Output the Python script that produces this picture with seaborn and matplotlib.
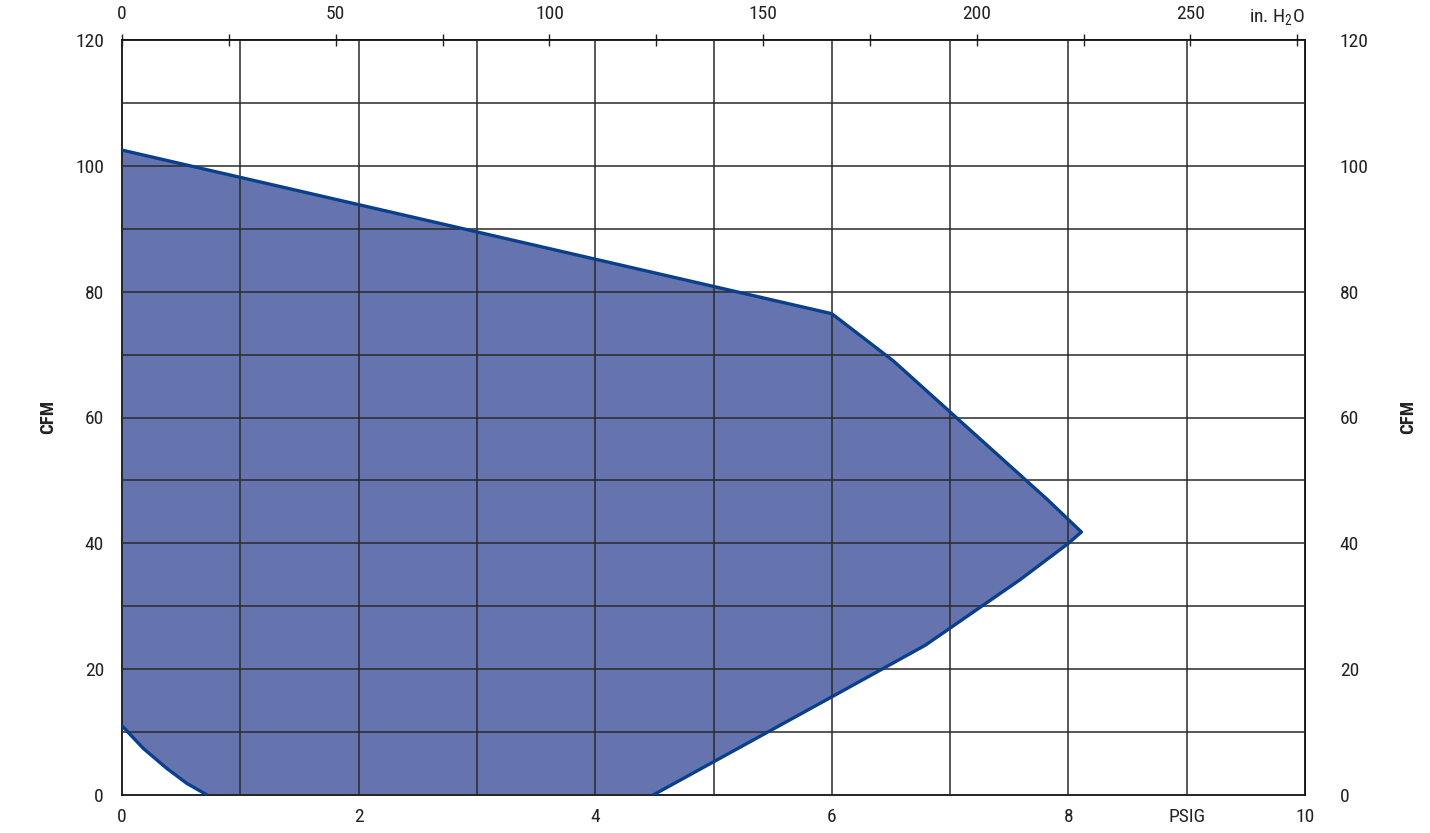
import numpy as np
import pandas as pd
import seaborn as sns
import matplotlib
matplotlib.use('Agg')
import matplotlib.pyplot as plt
from matplotlib.ticker import MultipleLocator, FixedLocator

# Операционная зона (PSIG -> CFM)
upper_psig = [0.0, 6.0, 6.52, 7.82, 8.11]
upper_cfm = [102.5, 76.5, 69.0, 47.0, 41.8]
lower_psig = [8.11, 8.0, 7.59, 6.79, 6.0, 4.49]
lower_cfm = [41.8, 40.0, 34.2, 23.8, 15.6, 0.0]
left_psig = [0.72, 0.547, 0.378, 0.18, 0.0]
left_cfm = [0.0, 1.86, 4.24, 7.4, 11.0]

psig_ticks = [0, 2, 4, 6, 8, 9, 10]
psig_labels = ['0', '2', '4', '6', '8', 'PSIG', '10']
cfm_ticks = [0, 20, 40, 60, 80, 100, 120]
inh2o_ticks = [0, 50, 100, 150, 200, 250]
inh2o_minor = [25, 75, 125, 175, 225, 275]
INH2O_PER_PSI = 27.68

sns.set_style('white')
narrow = ['Liberation Sans Narrow', 'Roboto Condensed', 'Open Sans Condensed',
          'Arial Narrow', 'Liberation Sans', 'DejaVu Sans']
plt.rcParams['font.family'] = narrow
plt.rcParams['mathtext.fontset'] = 'custom'
plt.rcParams['mathtext.rm'] = 'Roboto Condensed'
TXT = '#222222'

fig = plt.figure(figsize=(14.3, 8.33), dpi=100)
ax = fig.add_axes([122 / 1430, 1 - 795 / 833, 1183 / 1430, 755 / 833])

# полигон зоны
poly_x = upper_psig + lower_psig[1:] + left_psig + [0.0]
poly_y = upper_cfm + lower_cfm[1:] + left_cfm + [102.5]
ax.fill(poly_x, poly_y, color='#6574ae', lw=0, zorder=1)

outline = pd.DataFrame({'psig': upper_psig + lower_psig[1:], 'cfm': upper_cfm + lower_cfm[1:]})
curve = pd.DataFrame({'psig': left_psig, 'cfm': left_cfm})
sns.lineplot(data=outline, x='psig', y='cfm', sort=False, estimator=None,
             color='#0a3f8c', lw=2.4, ax=ax, zorder=3)
sns.lineplot(data=curve, x='psig', y='cfm', sort=False, estimator=None,
             color='#0a3f8c', lw=2.4, ax=ax, zorder=3)

ax.set_xlim(0, 10)
ax.set_ylim(0, 120)
ax.set_axisbelow(False)
ax.set_xlabel('')
ax.set_ylabel('')

ax.set_xticks(psig_ticks, psig_labels)
ax.xaxis.set_minor_locator(MultipleLocator(1))
ax.set_yticks(cfm_ticks)
ax.yaxis.set_minor_locator(MultipleLocator(10))
ax.grid(True, which='both', color='#2a2a2a', lw=1.1, zorder=2)
ax.tick_params(axis='x', which='both', length=0, pad=9, labelsize=14, colors=TXT)
ax.tick_params(axis='y', which='both', length=0, pad=13, labelsize=14, colors=TXT)

for s in ax.spines.values():
    s.set_color('#111111')
    s.set_linewidth(1.3)

# правая ось CFM
ay2 = ax.secondary_yaxis('right')
ay2.set_yticks(cfm_ticks)
ay2.tick_params(length=0, pad=25, labelsize=14, colors=TXT)
ay2.spines['right'].set_linewidth(1.3)

# верхняя ось in. H2O
ax2 = ax.secondary_xaxis('top', functions=(lambda p: p * INH2O_PER_PSI,
                                           lambda h: h / INH2O_PER_PSI))
ax2.set_xticks(inh2o_ticks)
ax2.xaxis.set_minor_locator(FixedLocator(inh2o_minor))
ax2.tick_params(which='both', direction='inout', length=8, width=1.0,
                pad=8, labelsize=14, colors=TXT)
ax2.spines['top'].set_linewidth(1.3)
ax.text(10, 121.9, 'in. H$_\\mathregular{2}$O', ha='right', va='bottom',
        fontsize=14, color=TXT, transform=ax.transData)

fig.text(48 / 1430, 0.499, 'CFM', rotation=90, ha='center', va='center',
         fontsize=13.5, fontweight='bold', color=TXT)
fig.text(1408 / 1430, 0.499, 'CFM', rotation=90, ha='center', va='center',
         fontsize=13.5, fontweight='bold', color=TXT)

fig.savefig('out.png', dpi=100)
